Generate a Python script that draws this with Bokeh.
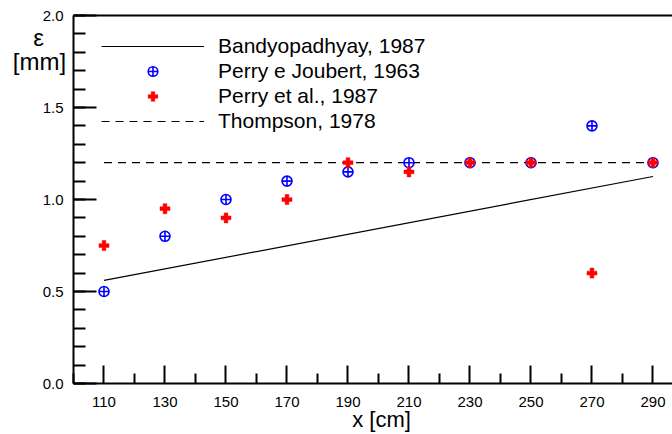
from bokeh.plotting import figure
from bokeh.models import (Range1d, LinearAxis, FixedTicker, SingleIntervalTicker,
                          PrintfTickFormatter, Legend, LegendItem, Label)
from bokeh.embed import file_html
from bokeh.resources import INLINE

# ---- data ----
x_cm = [110, 130, 150, 170, 190, 210, 230, 250, 270, 290]
perry_joubert_1963 = [0.5, 0.8, 1.0, 1.1, 1.15, 1.2, 1.2, 1.2, 1.4, 1.2]
perry_et_al_1987 = [0.75, 0.95, 0.9, 1.0, 1.2, 1.15, 1.2, 1.2, 0.6, 1.2]
bandyopadhyay_x = [110, 290]
bandyopadhyay_y = [0.56, 1.125]
thompson_x = [110, 290]
thompson_y = [1.2, 1.2]
x_major_ticks = [110, 130, 150, 170, 190, 210, 230, 250, 270, 290]
x_minor_ticks = [100, 120, 140, 160, 180, 200, 220, 240, 260, 280]

FONT = "Liberation Sans"
W, H = 672, 434
X0, X1 = 100, 296.4
Y0, Y1 = 0.0, 2.0
# frame covers the whole canvas; axes are pinned with fixed_location
px_per_x = 3.05
px_per_y = 184.0
x_start = X0 - 73 / px_per_x
y_start = Y0 - (H - 383) / px_per_y
y_end = Y1 + 15 / px_per_y

p = figure(width=W, height=H, output_backend="svg", toolbar_location=None,
           x_range=Range1d(x_start, X1), y_range=Range1d(y_start, y_end),
           min_border=0, x_axis_type=None, y_axis_type=None)
p.outline_line_color = None
p.grid.visible = False
p.background_fill_color = "white"
p.border_fill_color = "white"

# axes
xaxis = LinearAxis(ticker=FixedTicker(ticks=x_major_ticks, minor_ticks=x_minor_ticks),
                   fixed_location=Y0, bounds=(X0, X1))
xaxis.axis_line_width = 2
xaxis.major_tick_in = 18
xaxis.major_tick_out = 0
xaxis.minor_tick_in = 10
xaxis.minor_tick_out = 0
xaxis.major_tick_line_width = 2
xaxis.minor_tick_line_width = 2
xaxis.major_label_text_font = FONT
xaxis.major_label_text_font_size = "15px"
xaxis.major_label_text_color = "black"
xaxis.major_label_standoff = 13
p.add_layout(xaxis, "below")

yaxis = LinearAxis(ticker=SingleIntervalTicker(interval=0.5, num_minor_ticks=5),
                   formatter=PrintfTickFormatter(format="%.1f"),
                   fixed_location=X0, bounds=(Y0, Y1))
yaxis.axis_line_width = 2
yaxis.major_tick_in = 23
yaxis.major_tick_out = 0
yaxis.minor_tick_in = 12
yaxis.minor_tick_out = 0
yaxis.major_tick_line_width = 2
yaxis.minor_tick_line_width = 2
yaxis.major_label_text_font = FONT
yaxis.major_label_text_font_size = "15px"
yaxis.major_label_text_color = "black"
yaxis.major_label_standoff = 10
p.add_layout(yaxis, "left")

top_axis = LinearAxis(ticker=FixedTicker(ticks=[]), fixed_location=Y1, bounds=(X0, X1))
top_axis.axis_line_width = 2
top_axis.major_tick_line_color = None
top_axis.minor_tick_line_color = None
top_axis.major_label_text_font_size = "0px"
p.add_layout(top_axis, "above")

# series
r_band = p.line(bandyopadhyay_x, bandyopadhyay_y, line_color="black", line_width=1.2)
r_thomp = p.line(thompson_x, thompson_y, line_color="black", line_width=1.2, line_dash="8 6")
r_pj = p.scatter(x_cm, perry_joubert_1963, marker="circle_cross", size=10,
                 line_color="blue", fill_color="white", line_width=1.6)
r_pe = p.scatter(x_cm, perry_et_al_1987, marker="plus", size=10,
                 line_color="red", fill_color="red", line_width=0.5)

legend = Legend(items=[
    LegendItem(label="Bandyopadhyay, 1987", renderers=[r_band]),
    LegendItem(label="Perry e Joubert, 1963", renderers=[r_pj]),
    LegendItem(label="Perry et al., 1987", renderers=[r_pe]),
    LegendItem(label="Thompson, 1978", renderers=[r_thomp]),
], location=(101, H - 34 - 99))
legend.border_line_color = None
legend.background_fill_alpha = 0
legend.padding = 0
legend.margin = 0
legend.spacing = 1
legend.glyph_width = 103
legend.glyph_height = 24
legend.label_height = 24
legend.label_standoff = 14
legend.label_text_font = FONT
legend.label_text_font_size = "21px"
legend.label_text_color = "black"
p.add_layout(legend, "center")

# axis labels (screen units from the canvas bottom-left)
for txt, x, y, fs in [("ε", 38, H - 37, "24px"), ("[mm]", 39, H - 61, "24px"),
                      ("x [cm]", 381, H - 419, "22px")]:
    p.add_layout(Label(x=x, y=y, x_units="screen", y_units="screen", text=txt,
                       text_align="center", text_baseline="middle",
                       text_font=FONT, text_font_size=fs, text_color="black"))

open("out.html", "w").write(file_html(p, INLINE))
